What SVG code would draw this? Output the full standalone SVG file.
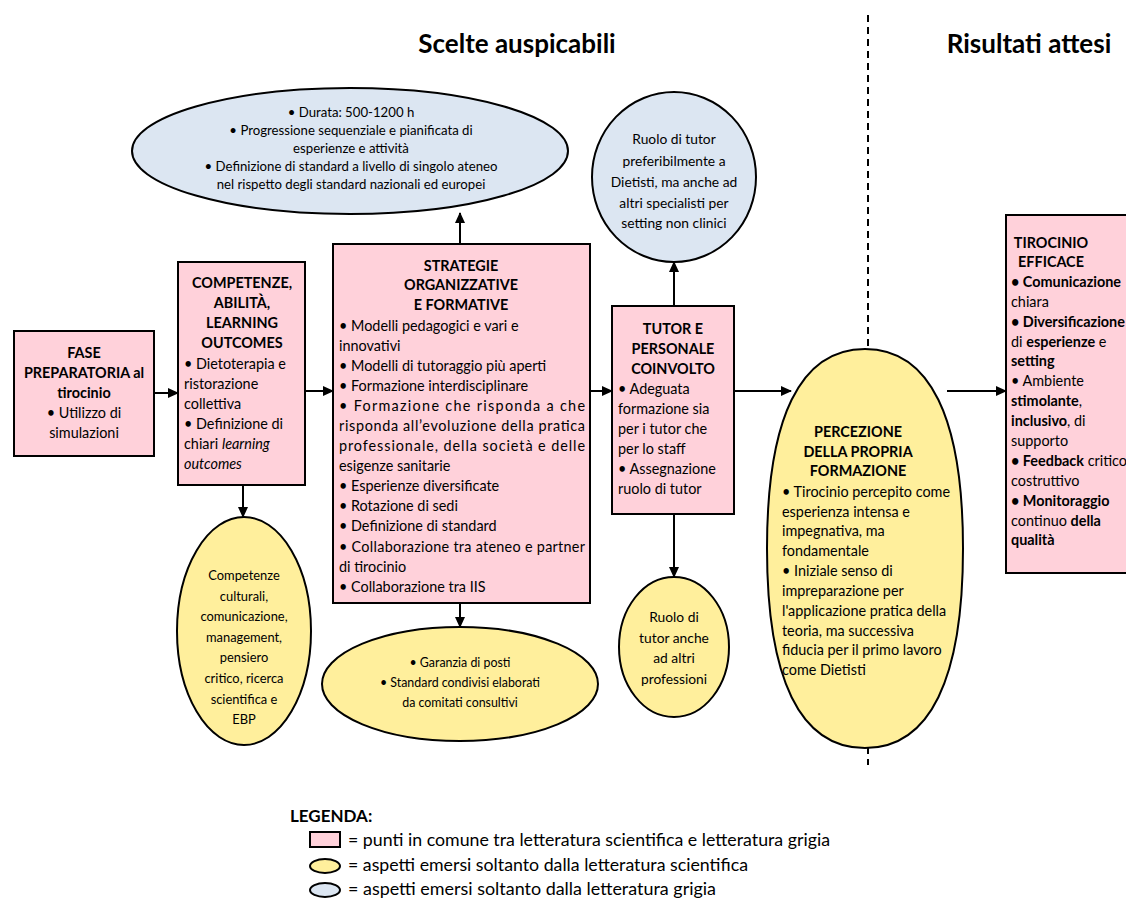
<svg xmlns="http://www.w3.org/2000/svg" width="1126" height="905" viewBox="0 0 1126 905">
<defs>
<style>
text{font-family:Lato,"Liberation Sans",sans-serif;fill:#000;font-size:14.4px}
.b{font-weight:bold}
.i{font-style:italic}
.c{text-anchor:middle}
.s{font-size:13.2px}
.m{font-size:13.8px}
.n{font-size:12.4px}
.k{font-size:12.9px}
.lg{font-size:17px}
.ttl{font-size:26px;font-weight:bold}
.box{fill:#FFD1DA;stroke:#000;stroke-width:2}
.yel{fill:#FFEF9C;stroke:#000;stroke-width:2}
.blu{fill:#DCE6F2;stroke:#000;stroke-width:2}
.con{stroke:#000;stroke-width:2;fill:none;marker-end:url(#ah)}
</style>
<marker id="ah" markerWidth="11" markerHeight="10" refX="10" refY="5" orient="auto" markerUnits="userSpaceOnUse"><path d="M0,0 L11,5 L0,10 z" fill="#000"/></marker>
</defs>
<rect width="1126" height="905" fill="#fff"/>

<g id="titles">
<text class="ttl c" x="517" y="53">Scelte auspicabili</text>
<text class="ttl c" x="1029" y="53">Risultati attesi</text>
<line x1="868" y1="15" x2="868" y2="765" stroke="#000" stroke-width="2" stroke-dasharray="7,5"/>
</g>

<g id="connectors">
<line class="con" x1="154" y1="393" x2="178" y2="393"/>
<line class="con" x1="243" y1="485" x2="243" y2="517"/>
<line class="con" x1="305" y1="391" x2="333" y2="391"/>
<line class="con" x1="460" y1="244" x2="460" y2="213"/>
<line class="con" x1="460" y1="603" x2="460" y2="627"/>
<line class="con" x1="590" y1="391" x2="612" y2="391"/>
<line class="con" x1="674" y1="306" x2="674" y2="262"/>
<line class="con" x1="674" y1="514" x2="674" y2="577"/>
<line class="con" x1="734" y1="391" x2="791" y2="391"/>
<line class="con" x1="947" y1="391" x2="1006" y2="391"/>
</g>

<g id="top-ellipse">
<ellipse class="blu" cx="350" cy="151" rx="218" ry="63"/>
<text class="s c" x="351" y="117">• Durata: 500-1200 h</text>
<text class="s c" x="351" y="135">• Progressione sequenziale e pianificata di</text>
<text class="s c" x="351" y="153">esperienze e attività</text>
<text class="s c" x="351" y="171">• Definizione di standard a livello di singolo ateneo</text>
<text class="s c" x="351" y="189">nel rispetto degli standard nazionali ed europei</text>
</g>

<g id="fase">
<rect class="box" x="14" y="331" width="140" height="125"/>
<text class="b c" x="84" y="358">FASE</text>
<text class="b c" x="84" y="378">PREPARATORIA al</text>
<text class="b c" x="84" y="398">tirocinio</text>
<text class="c" x="84" y="418">• Utilizzo di</text>
<text class="c" x="84" y="438">simulazioni</text>
</g>

<g id="competenze">
<rect class="box" x="178" y="262" width="127" height="223"/>
<text class="b c" x="242" y="288">COMPETENZE,</text>
<text class="b c" x="242" y="308">ABILITÀ,</text>
<text class="b c" x="242" y="328">LEARNING</text>
<text class="b c" x="242" y="348">OUTCOMES</text>
<text x="184" y="369">• Dietoterapia e</text>
<text x="184" y="389">ristorazione</text>
<text x="184" y="409">collettiva</text>
<text x="184" y="429">• Definizione di</text>
<text x="184" y="449">chiari <tspan class="i">learning</tspan></text>
<text class="i" x="184" y="469">outcomes</text>
</g>

<g id="competenze-ellipse">
<ellipse class="yel" cx="244" cy="631" rx="67" ry="114"/>
<text class="k c" x="244" y="580">Competenze</text>
<text class="k c" x="244" y="601">culturali,</text>
<text class="k c" x="244" y="621">comunicazione,</text>
<text class="k c" x="244" y="642">management,</text>
<text class="k c" x="244" y="662">pensiero</text>
<text class="k c" x="244" y="683">critico, ricerca</text>
<text class="k c" x="244" y="704">scientifica e</text>
<text class="k c" x="244" y="724">EBP</text>
</g>

<g id="strategie">
<rect class="box" x="333" y="244" width="257" height="359"/>
<text class="b c" x="461" y="271">STRATEGIE</text>
<text class="b c" x="461" y="290">ORGANIZZATIVE</text>
<text class="b c" x="461" y="310">E FORMATIVE</text>
<text x="339" y="331">• Modelli pedagogici e vari e</text>
<text x="339" y="351">innovativi</text>
<text x="339" y="371">• Modelli di tutoraggio più aperti</text>
<text x="339" y="391">• Formazione interdisciplinare</text>
<text x="339" y="411" textLength="246" lengthAdjust="spacing">•  Formazione che risponda a che</text>
<text x="339" y="431" textLength="246" lengthAdjust="spacing">risponda all’evoluzione della pratica</text>
<text x="339" y="451" textLength="246" lengthAdjust="spacing">professionale, della società e delle</text>
<text x="339" y="471">esigenze sanitarie</text>
<text x="339" y="491">• Esperienze diversificate</text>
<text x="339" y="511">• Rotazione di sedi</text>
<text x="339" y="531">• Definizione di standard</text>
<text x="339" y="552" textLength="246" lengthAdjust="spacing">• Collaborazione tra ateneo e partner</text>
<text x="339" y="572">di tirocinio</text>
<text x="339" y="592">• Collaborazione tra IIS</text>
</g>

<g id="posti-ellipse">
<ellipse class="yel" cx="460" cy="684" rx="138" ry="57"/>
<text class="n c" x="460" y="667">• Garanzia di posti</text>
<text class="n c" x="460" y="687">• Standard condivisi elaborati</text>
<text class="n c" x="460" y="707">da comitati consultivi</text>
</g>

<g id="tutor-ellipse-top">
<ellipse class="blu" cx="674" cy="177" rx="82" ry="85"/>
<text class="m c" x="674" y="144">Ruolo di tutor</text>
<text class="m c" x="674" y="166">preferibilmente a</text>
<text class="m c" x="674" y="187">Dietisti, ma anche ad</text>
<text class="m c" x="674" y="208">altri specialisti per</text>
<text class="m c" x="674" y="228">setting non clinici</text>
</g>

<g id="tutor">
<rect class="box" x="612" y="306" width="122" height="208"/>
<text class="b c" x="673" y="334">TUTOR E</text>
<text class="b c" x="673" y="354">PERSONALE</text>
<text class="b c" x="673" y="374">COINVOLTO</text>
<text x="618" y="394">• Adeguata</text>
<text x="618" y="414">formazione sia</text>
<text x="618" y="434">per i tutor che</text>
<text x="618" y="454">per lo staff</text>
<text x="618" y="474">• Assegnazione</text>
<text x="618" y="494">ruolo di tutor</text>
</g>

<g id="tutor-ellipse-bottom">
<ellipse class="yel" cx="674" cy="647" rx="55" ry="70"/>
<text class="m c" x="674" y="622">Ruolo di</text>
<text class="m c" x="674" y="643">tutor anche</text>
<text class="m c" x="674" y="663">ad altri</text>
<text class="m c" x="674" y="684">professioni</text>
</g>

<g id="percezione">
<path class="yel" d="M865,349 C930,349 963,418 963,548.5 C963,679 930,748 865,748 C800,748 767,679 767,548.5 C767,418 800,349 865,349 Z"/>
<text class="b c" x="858" y="437">PERCEZIONE</text>
<text class="b c" x="858" y="457">DELLA PROPRIA</text>
<text class="b c" x="858" y="476">FORMAZIONE</text>
<text x="782" y="497">• Tirocinio percepito come</text>
<text x="782" y="517">esperienza intensa e</text>
<text x="782" y="536">impegnativa, ma</text>
<text x="782" y="556">fondamentale</text>
<text x="782" y="576">• Iniziale senso di</text>
<text x="782" y="596">impreparazione per</text>
<text x="782" y="616">l'applicazione pratica della</text>
<text x="782" y="636">teoria, ma successiva</text>
<text x="782" y="655">fiducia per il primo lavoro</text>
<text x="782" y="675">come Dietisti</text>
</g>

<g id="tirocinio-efficace">
<rect class="box" x="1006" y="215" width="130" height="358"/>
<text class="b c" x="1051" y="248">TIROCINIO</text>
<text class="b c" x="1051" y="267">EFFICACE</text>
<text x="1011" y="287"><tspan class="b">• Comunicazione</tspan></text>
<text x="1011" y="307">chiara</text>
<text x="1011" y="327"><tspan class="b">• Diversificazione</tspan></text>
<text x="1011" y="347">di <tspan class="b">esperienze</tspan> e</text>
<text x="1011" y="366" class="b">setting</text>
<text x="1011" y="386">• Ambiente</text>
<text x="1011" y="406"><tspan class="b">stimolante</tspan>,</text>
<text x="1011" y="426"><tspan class="b">inclusivo</tspan>, di</text>
<text x="1011" y="446">supporto</text>
<text x="1011" y="466"><tspan class="b">• Feedback</tspan> critico</text>
<text x="1011" y="486">costruttivo</text>
<text x="1011" y="506" class="b">• Monitoraggio</text>
<text x="1011" y="526">continuo <tspan class="b">della</tspan></text>
<text x="1011" y="545" class="b">qualità</text>
</g>

<g id="legend">
<text class="b lg" x="290" y="822">LEGENDA:</text>
<rect x="310" y="832" width="30" height="15" fill="#FFD1DA" stroke="#000" stroke-width="2"/>
<text class="lg" x="348" y="846" textLength="482" lengthAdjust="spacingAndGlyphs">= punti in comune tra letteratura scientifica e letteratura grigia</text>
<ellipse cx="325" cy="866" rx="15" ry="7" fill="#FFEF9C" stroke="#000" stroke-width="2"/>
<text class="lg" x="348" y="871" textLength="400" lengthAdjust="spacingAndGlyphs">= aspetti emersi soltanto dalla letteratura scientifica</text>
<ellipse cx="325" cy="890" rx="15" ry="7" fill="#DCE6F2" stroke="#000" stroke-width="2"/>
<text class="lg" x="348" y="895" textLength="368" lengthAdjust="spacingAndGlyphs">= aspetti emersi soltanto dalla letteratura grigia</text>
</g>
</svg>
